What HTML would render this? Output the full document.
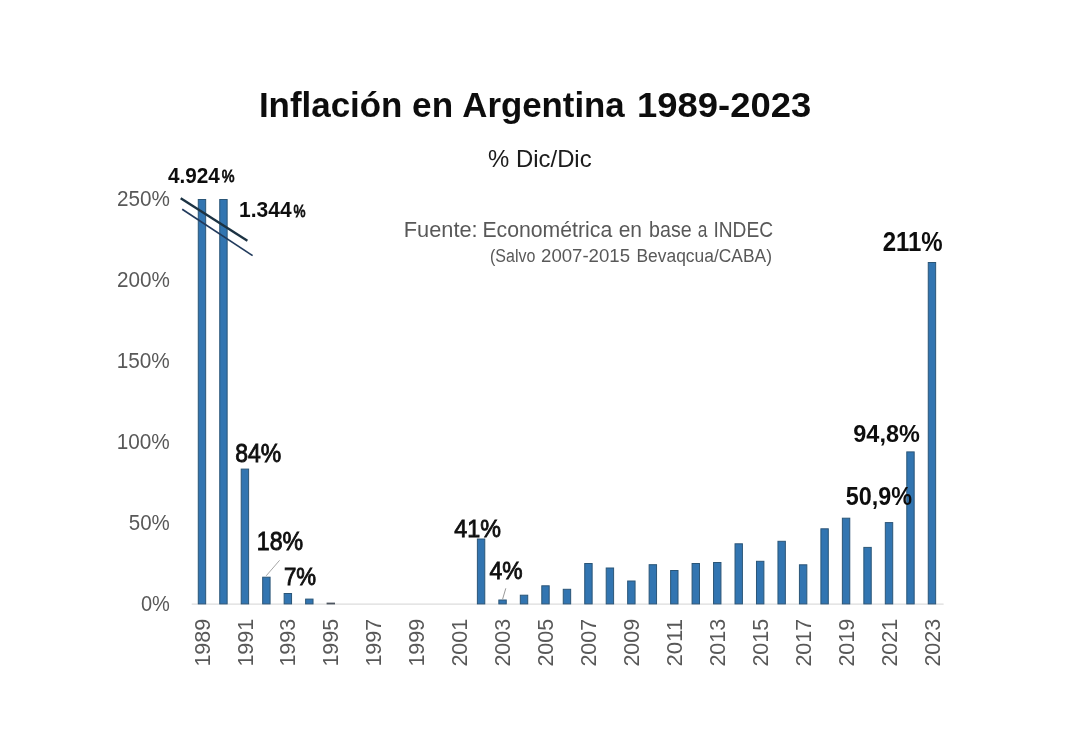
<!DOCTYPE html>
<html><head><meta charset="utf-8"><style>
html,body{margin:0;padding:0;background:#fff;}
svg{display:block;font-family:"Liberation Sans",sans-serif;}
</style></head><body>
<svg width="1080" height="755" viewBox="0 0 1080 755">
<defs><filter id="soft" x="0" y="0" width="1080" height="755" filterUnits="userSpaceOnUse"><feGaussianBlur stdDeviation="0.4"/></filter></defs>
<rect width="1080" height="755" fill="#ffffff"/>
<g filter="url(#soft)">
<text x="258.90" y="117.40" font-size="34.9" font-weight="bold" fill="#0d0d0d" textLength="143.56" lengthAdjust="spacingAndGlyphs">Inflación</text><text x="412.14" y="117.40" font-size="34.9" font-weight="bold" fill="#0d0d0d" textLength="40.96" lengthAdjust="spacingAndGlyphs">en</text><text x="462.29" y="117.40" font-size="34.9" font-weight="bold" fill="#0d0d0d" textLength="162.45" lengthAdjust="spacingAndGlyphs">Argentina</text><text x="637.12" y="117.40" font-size="34.9" font-weight="bold" fill="#0d0d0d" textLength="174.07" lengthAdjust="spacingAndGlyphs">1989-2023</text>
<text x="488.14" y="166.50" font-size="23.4" font-weight="normal" fill="#1a1a1a" textLength="103.51" lengthAdjust="spacingAndGlyphs">% Dic/Dic</text>
<text x="403.77" y="236.60" font-size="21.6" font-weight="normal" fill="#595959" textLength="73.89" lengthAdjust="spacingAndGlyphs">Fuente:</text><text x="482.44" y="236.60" font-size="21.6" font-weight="normal" fill="#595959" textLength="129.76" lengthAdjust="spacingAndGlyphs">Econométrica</text><text x="618.67" y="236.60" font-size="21.6" font-weight="normal" fill="#595959" textLength="23.33" lengthAdjust="spacingAndGlyphs">en</text><text x="649.10" y="236.60" font-size="21.6" font-weight="normal" fill="#595959" textLength="42.57" lengthAdjust="spacingAndGlyphs">base</text><text x="697.76" y="236.60" font-size="21.6" font-weight="normal" fill="#595959" textLength="9.65" lengthAdjust="spacingAndGlyphs">a</text><text x="713.38" y="236.60" font-size="21.6" font-weight="normal" fill="#595959" textLength="59.71" lengthAdjust="spacingAndGlyphs">INDEC</text>
<text x="490.02" y="262.00" font-size="17.6" font-weight="normal" fill="#595959" textLength="45.40" lengthAdjust="spacingAndGlyphs">(Salvo</text><text x="541.05" y="262.00" font-size="17.6" font-weight="normal" fill="#595959" textLength="88.95" lengthAdjust="spacingAndGlyphs">2007-2015</text><text x="636.47" y="262.00" font-size="17.6" font-weight="normal" fill="#595959" textLength="135.49" lengthAdjust="spacingAndGlyphs">Bevaqcua/CABA)</text>
<line x1="191.7" y1="604.2" x2="943.6" y2="604.2" stroke="#dcdcdc" stroke-width="1.3"/>
<defs><linearGradient id="bg" x1="0" x2="1" y1="0" y2="0"><stop offset="0" stop-color="#2b587e"/><stop offset="0.2" stop-color="#2f6ea6"/><stop offset="0.5" stop-color="#3276b2"/><stop offset="0.8" stop-color="#2f6ea6"/><stop offset="1" stop-color="#2b587e"/></linearGradient></defs><g fill="#3175b1" stroke="#2c5678" stroke-width="1"><rect x="198.27" y="199.50" width="7.4" height="404.40"/><rect x="219.74" y="199.50" width="7.4" height="404.40"/><rect x="241.21" y="469.10" width="7.4" height="134.80"/><rect x="262.68" y="577.20" width="7.4" height="26.70"/><rect x="284.15" y="593.50" width="7.4" height="10.40"/><rect x="305.62" y="599.10" width="7.4" height="4.80"/><rect x="327.09" y="603.10" width="7.4" height="0.80" fill="#4d5660" stroke="#4d5660"/><rect x="477.38" y="539.00" width="7.4" height="64.90"/><rect x="498.85" y="600.00" width="7.4" height="3.90"/><rect x="520.32" y="595.20" width="7.4" height="8.70"/><rect x="541.79" y="585.80" width="7.4" height="18.10"/><rect x="563.26" y="589.30" width="7.4" height="14.60"/><rect x="584.73" y="563.50" width="7.4" height="40.40"/><rect x="606.20" y="568.00" width="7.4" height="35.90"/><rect x="627.67" y="581.00" width="7.4" height="22.90"/><rect x="649.14" y="564.70" width="7.4" height="39.20"/><rect x="670.61" y="570.50" width="7.4" height="33.40"/><rect x="692.08" y="563.50" width="7.4" height="40.40"/><rect x="713.55" y="562.50" width="7.4" height="41.40"/><rect x="735.02" y="543.80" width="7.4" height="60.10"/><rect x="756.49" y="561.30" width="7.4" height="42.60"/><rect x="777.96" y="541.30" width="7.4" height="62.60"/><rect x="799.43" y="564.80" width="7.4" height="39.10"/><rect x="820.90" y="528.80" width="7.4" height="75.10"/><rect x="842.37" y="518.20" width="7.4" height="85.70"/><rect x="863.84" y="547.40" width="7.4" height="56.50"/><rect x="885.31" y="522.60" width="7.4" height="81.30"/><rect x="906.78" y="451.90" width="7.4" height="152.00"/><rect x="928.25" y="262.50" width="7.4" height="341.40"/></g>
<text x="140.93" y="611.15" font-size="22.67" font-weight="normal" fill="#595959" textLength="28.95" lengthAdjust="spacingAndGlyphs">0%</text><text x="128.81" y="530.16" font-size="22.67" font-weight="normal" fill="#595959" textLength="41.05" lengthAdjust="spacingAndGlyphs">50%</text><text x="116.70" y="449.17" font-size="22.67" font-weight="normal" fill="#595959" textLength="53.15" lengthAdjust="spacingAndGlyphs">100%</text><text x="116.70" y="368.18" font-size="22.67" font-weight="normal" fill="#595959" textLength="53.15" lengthAdjust="spacingAndGlyphs">150%</text><text x="116.95" y="287.19" font-size="22.67" font-weight="normal" fill="#595959" textLength="52.91" lengthAdjust="spacingAndGlyphs">200%</text><text x="116.95" y="206.20" font-size="22.67" font-weight="normal" fill="#595959" textLength="52.91" lengthAdjust="spacingAndGlyphs">250%</text>
<g fill="#595959" font-size="21.6"><text transform="translate(209.57,666.6) rotate(-90)" textLength="47.8" lengthAdjust="spacingAndGlyphs">1989</text><text transform="translate(252.51,666.6) rotate(-90)" textLength="47.8" lengthAdjust="spacingAndGlyphs">1991</text><text transform="translate(295.45,666.6) rotate(-90)" textLength="47.8" lengthAdjust="spacingAndGlyphs">1993</text><text transform="translate(338.39,666.6) rotate(-90)" textLength="47.8" lengthAdjust="spacingAndGlyphs">1995</text><text transform="translate(381.33,666.6) rotate(-90)" textLength="47.8" lengthAdjust="spacingAndGlyphs">1997</text><text transform="translate(424.27,666.6) rotate(-90)" textLength="47.8" lengthAdjust="spacingAndGlyphs">1999</text><text transform="translate(467.21,666.6) rotate(-90)" textLength="47.8" lengthAdjust="spacingAndGlyphs">2001</text><text transform="translate(510.15,666.6) rotate(-90)" textLength="47.8" lengthAdjust="spacingAndGlyphs">2003</text><text transform="translate(553.09,666.6) rotate(-90)" textLength="47.8" lengthAdjust="spacingAndGlyphs">2005</text><text transform="translate(596.03,666.6) rotate(-90)" textLength="47.8" lengthAdjust="spacingAndGlyphs">2007</text><text transform="translate(638.97,666.6) rotate(-90)" textLength="47.8" lengthAdjust="spacingAndGlyphs">2009</text><text transform="translate(681.91,666.6) rotate(-90)" textLength="47.8" lengthAdjust="spacingAndGlyphs">2011</text><text transform="translate(724.85,666.6) rotate(-90)" textLength="47.8" lengthAdjust="spacingAndGlyphs">2013</text><text transform="translate(767.79,666.6) rotate(-90)" textLength="47.8" lengthAdjust="spacingAndGlyphs">2015</text><text transform="translate(810.73,666.6) rotate(-90)" textLength="47.8" lengthAdjust="spacingAndGlyphs">2017</text><text transform="translate(853.67,666.6) rotate(-90)" textLength="47.8" lengthAdjust="spacingAndGlyphs">2019</text><text transform="translate(896.61,666.6) rotate(-90)" textLength="47.8" lengthAdjust="spacingAndGlyphs">2021</text><text transform="translate(939.55,666.6) rotate(-90)" textLength="47.8" lengthAdjust="spacingAndGlyphs">2023</text></g>
<line x1="180.7" y1="198.3" x2="247.4" y2="240.8" stroke="#1b3243" stroke-width="2.4"/>
<line x1="182.2" y1="209.3" x2="252.6" y2="255.6" stroke="#213a5c" stroke-width="1.7"/>
<text x="167.92" y="182.50" font-size="21.95" font-weight="bold" fill="#0d0d0d" textLength="51.85" lengthAdjust="spacingAndGlyphs">4.924</text><text x="221.84" y="182.15" font-size="17.37" font-weight="normal" fill="#0d0d0d" textLength="12.81" lengthAdjust="spacingAndGlyphs" stroke="#0d0d0d" stroke-width="0.85">%</text><text x="239.04" y="216.85" font-size="22.89" font-weight="bold" fill="#0d0d0d" textLength="52.56" lengthAdjust="spacingAndGlyphs">1.344</text><text x="293.41" y="216.50" font-size="16.86" font-weight="normal" fill="#0d0d0d" textLength="12.06" lengthAdjust="spacingAndGlyphs" stroke="#0d0d0d" stroke-width="0.85">%</text>
<text x="235.19" y="461.65" font-size="25.8" font-weight="normal" fill="#0d0d0d" textLength="46.06" lengthAdjust="spacingAndGlyphs" stroke="#0d0d0d" stroke-width="0.85">84%</text><text x="256.82" y="549.75" font-size="24.93" font-weight="normal" fill="#0d0d0d" textLength="46.38" lengthAdjust="spacingAndGlyphs" stroke="#0d0d0d" stroke-width="0.85">18%</text><text x="283.91" y="584.65" font-size="23.62" font-weight="normal" fill="#0d0d0d" textLength="32.18" lengthAdjust="spacingAndGlyphs" stroke="#0d0d0d" stroke-width="0.85">7%</text><text x="454.25" y="537.05" font-size="24.35" font-weight="normal" fill="#0d0d0d" textLength="46.57" lengthAdjust="spacingAndGlyphs" stroke="#0d0d0d" stroke-width="0.85">41%</text><text x="489.57" y="578.75" font-size="24.35" font-weight="normal" fill="#0d0d0d" textLength="33.04" lengthAdjust="spacingAndGlyphs" stroke="#0d0d0d" stroke-width="0.85">4%</text><text x="853.31" y="441.60" font-size="24.71" font-weight="bold" fill="#0d0d0d" textLength="66.50" lengthAdjust="spacingAndGlyphs">94,8%</text><text x="845.72" y="505.30" font-size="25.44" font-weight="bold" fill="#0d0d0d" textLength="66.33" lengthAdjust="spacingAndGlyphs">50,9%</text><text x="882.63" y="250.70" font-size="27.18" font-weight="bold" fill="#0d0d0d" textLength="60.07" lengthAdjust="spacingAndGlyphs">211%</text>
<line x1="279.6" y1="560.3" x2="266.2" y2="575.8" stroke="#a6a6a6" stroke-width="1"/>
<line x1="505.8" y1="588.3" x2="502.5" y2="599.5" stroke="#999999" stroke-width="1"/>
</g>
</svg>
</body></html>
